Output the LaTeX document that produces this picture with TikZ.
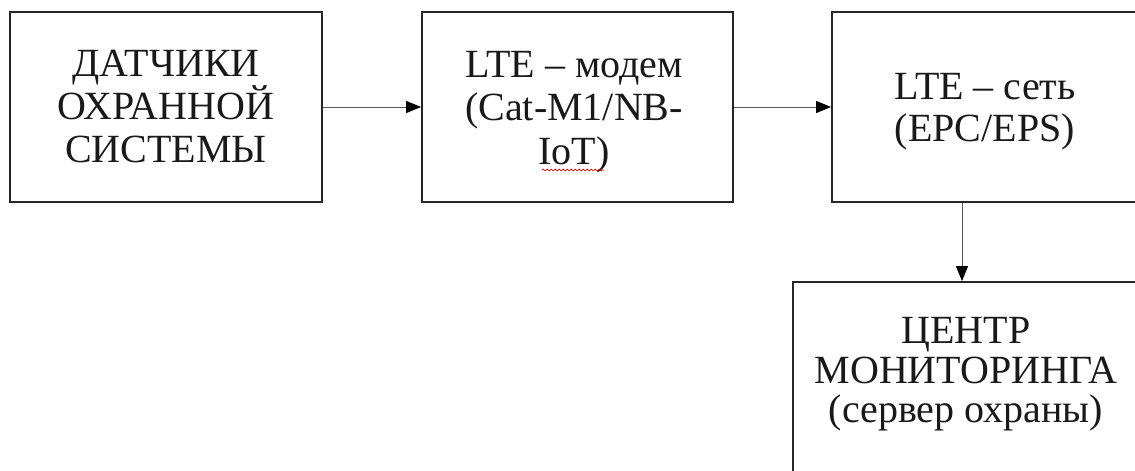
\documentclass[tikz,border=0pt]{standalone}
\usepackage{fontspec}
\setmainfont{Liberation Serif}
\usetikzlibrary{arrows.meta,decorations.pathmorphing}
\begin{document}
\begin{tikzpicture}[x=1pt,y=-1pt,
  blk/.style={draw=black!85,line width=1.8pt,inner sep=0pt,fill=white},
  txt/.style={align=center,inner sep=0pt,text=black!90},
  arr/.style={draw=black!65,line width=1pt,-{Triangle[length=15pt,width=12pt,color=black]}},
  wavy/.style={draw=red!85!black,line width=0.7pt,decorate,decoration={snake,amplitude=0.9pt,segment length=4pt}}]
\useasboundingbox (0,0) rectangle (1135,471);
\clip (0,0) rectangle (1135,471);
\fill[white] (0,0) rectangle (1135,471);
\node[blk,minimum width=312pt,minimum height=190pt] (b1) at (166,107) {};
\node[blk,minimum width=311pt,minimum height=190pt] (b2) at (577.5,107) {};
\node[blk,minimum width=308pt,minimum height=190pt] (b3) at (986,107) {};
\node[blk,minimum width=347pt,minimum height=193pt] (b4) at (966.5,378.5) {};
\node[txt,font=\fontsize{40}{43}\selectfont] (t1) at (166,106.75) {ДАТЧИКИ\\ОХРАННОЙ\\СИСТЕМЫ};
\node[txt,font=\fontsize{40}{43.5}\selectfont] (t2) at (574,111.75) {LTE – модем\\(Cat-M1/NB-\\IoT)};
\node[txt,font=\fontsize{40}{42.5}\selectfont] (t3) at (985,111.5) {LTE – сеть\\(EPC/EPS)};
\node[txt,font=\fontsize{40}{39.5}\selectfont] (t4) at (966,374.6) {ЦЕНТР\\МОНИТОРИНГА\\(сервер охраны)};
\draw[arr] (b1.east) -- (b2.west);
\draw[arr] (b2.east) -- (b3.west);
\coordinate (c3) at (962,0);
\draw[arr] (b3.south -| c3) -- (b4.north -| c3);
\draw[wavy] (542,170) -- (604,170);
\end{tikzpicture}
\end{document}
